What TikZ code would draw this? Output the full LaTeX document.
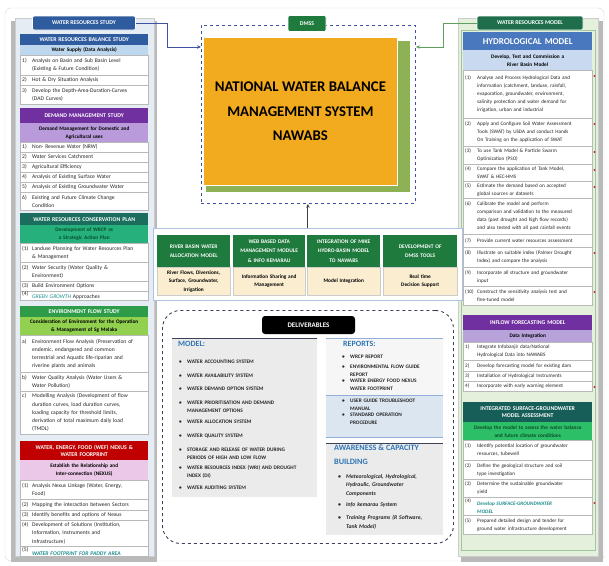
\documentclass[tikz,border=0pt]{standalone}
\usepackage{fontspec}
\setmainfont{Carlito}
\usepackage{xcolor}
\usetikzlibrary{positioning,arrows.meta}

\definecolor{wrsblue}{HTML}{2F5C9E}
\definecolor{wslight}{HTML}{BDD7EE}
\definecolor{dmpurple}{HTML}{7030A0}
\definecolor{dmlight}{HTML}{B99BDC}
\definecolor{cpteal}{HTML}{1B6E5E}
\definecolor{cplight}{HTML}{25B07C}
\definecolor{cptext}{HTML}{0B4D2A}
\definecolor{efgreen}{HTML}{2E9B48}
\definecolor{eflime}{HTML}{92D050}
\definecolor{wefred}{HTML}{C00000}
\definecolor{wefpink}{HTML}{EBC8E8}
\definecolor{hydblue}{HTML}{4A78BE}
\definecolor{hydlight}{HTML}{C9DAF0}
\definecolor{iflight}{HTML}{B7A2DA}
\definecolor{sgteal}{HTML}{175E58}
\definecolor{sggreen}{HTML}{2DBE68}
\definecolor{leftbg}{HTML}{E6ECF3}
\definecolor{rightbg}{HTML}{E4EFDC}
\definecolor{nawaorange}{HTML}{F2AA1E}
\definecolor{nawagreen}{HTML}{8DB255}
\definecolor{modgreen}{HTML}{1F7A3D}
\definecolor{modbeige}{HTML}{FBEED0}
\definecolor{wrmgreen}{HTML}{1E6E4C}
\definecolor{dashblue}{HTML}{3F51A5}
\definecolor{arrowgreen}{HTML}{5FA060}
\definecolor{delivline}{HTML}{3A4157}
\definecolor{boxgray}{HTML}{EBEBEB}
\definecolor{repblue}{HTML}{DCE6F1}
\definecolor{headblue}{HTML}{2E75B6}
\definecolor{italteal}{HTML}{1B8C8C}
\definecolor{dotred}{HTML}{D9262C}

\newcommand\lit[2]{\noindent\makebox[10pt][l]{#1}\parbox[t]{\dimexpr\hsize-10pt\relax}{\raggedright #2}}
\newcommand\rit[2]{\noindent\makebox[12pt][l]{#1}\parbox[t]{\dimexpr\hsize-12pt\relax}{\raggedright #2}}
\newcommand\dbul[1]{\noindent\makebox[8pt][l]{\textbullet}\parbox[t]{\dimexpr\hsize-8pt\relax}{\raggedright #1}\par}

\tikzset{
  tabbox/.style={rounded corners=2pt, draw=white, line width=0.6pt, text=white, inner sep=1pt, minimum height=14pt, font=\bfseries\fontsize{5.8}{7}\selectfont},
  lhdr/.style={anchor=north west, text width=124pt, inner xsep=2pt, inner ysep=0pt, align=center, text=white, font=\bfseries\fontsize{5.8}{7.6}\selectfont},
  lsub/.style={lhdr, text=black, font=\bfseries\fontsize{5.3}{8}\selectfont},
  lrow/.style={anchor=north west, draw=gray!55, fill=white, text=black!85, text width=124pt, inner xsep=2pt, inner ysep=0pt, align=left, font=\fontsize{5.6}{8.2}\selectfont},
  rhdr/.style={lhdr, text width=125pt},
  rsub/.style={lsub, text width=125pt},
  rrow/.style={lrow, text width=125pt, font=\fontsize{5.2}{8}\selectfont},
  modhdr/.style={anchor=north west, fill=modgreen, text=white, align=center, inner sep=1pt, minimum height=32pt, font=\bfseries\fontsize{5.5}{9.5}\selectfont},
  modbdy/.style={anchor=north west, fill=modbeige, draw=gray!40, align=center, inner sep=1pt, minimum height=28pt, font=\bfseries\fontsize{5.3}{8.5}\selectfont},
  listhead/.style={anchor=north west, inner sep=0pt, text=headblue, font=\bfseries\fontsize{8}{9}\selectfont},
  capslist/.style={anchor=north west, inner sep=0pt, align=left, text=black!85, font=\bfseries\fontsize{5.3}{8}\selectfont},
  conn/.style={line width=0.9pt, -{Stealth[length=4pt,width=3.5pt]}},
  reddot/.style={fill=dotred}
}

\begin{document}
\begin{tikzpicture}[x=1pt,y=-1pt]
\useasboundingbox (0,0) rectangle (609,565);
\fill[white] (0,0) rectangle (609,565);
\draw[gray!30, rounded corners=6pt] (5,8) rectangle (604,561);

\fill[gray!55] (11,21) rectangle (157,562);
\draw[fill=leftbg, draw=gray!40] (15,18) rectangle (154,556);
\fill[gray!55] (461,21) rectangle (603,562);
\draw[fill=rightbg, draw=gray!40] (458,18) rectangle (598,556);
\draw[green!25!gray!60] (461,30) rectangle (595,550);

\node[tabbox, fill=wrsblue, minimum width=103pt] (wrs) at (84,23) {WATER RESOURCES STUDY};
\node[tabbox, fill=wrmgreen, minimum width=106pt] (wrm) at (530,23) {WATER RESOURCES MODEL};

\node[lhdr, fill=wrsblue, minimum height=11pt] (wrbs) at (20,34) {WATER RESOURCES BALANCE STUDY};
\node[lsub, fill=wslight, minimum height=9.5pt] (wrbssub) at (20,45) {Water Supply (Data Analysis)};
\node[lrow, minimum height=20pt] (wr1) at (20,54.5) {\lit{1)}{Analysis on Basin and Sub Basin Level\\(Existing \& Future Condition)}};
\node[lrow, minimum height=10pt] (wr2) at (20,74.5) {\lit{2)}{Hot \& Dry Situation Analysis}};
\node[lrow, minimum height=19.5pt] (wr3) at (20,84.5) {\lit{3)}{Develop the Depth-Area-Duration-Curves\\(DAD Curves)}};

\node[lhdr, fill=dmpurple, minimum height=15pt] (dms) at (20,108) {DEMAND MANAGEMENT STUDY};
\node[lsub, fill=dmlight, minimum height=19pt] (dmssub) at (20,123) {Demand Management for Domestic and\\Agricultural uses};
\node[lrow, minimum height=10pt] (dm1) at (20,142) {\lit{1)}{Non- Revenue Water (NRW)}};
\node[lrow, minimum height=10pt] (dm2) at (20,152) {\lit{2)}{Water Services Catchment}};
\node[lrow, minimum height=10pt] (dm3) at (20,162) {\lit{3)}{Agricultural Efficiency}};
\node[lrow, minimum height=10pt] (dm4) at (20,172) {\lit{4)}{Analysis of Existing Surface Water}};
\node[lrow, minimum height=10pt] (dm5) at (20,182) {\lit{5)}{Analysis of Existing Groundwater Water}};
\node[lrow, minimum height=18pt] (dm6) at (20,192) {\lit{6)}{Existing and Future Climate Change\\Condition}};

\node[lhdr, fill=cpteal, minimum height=12pt] (cp) at (20,213) {WATER RESOURCES CONSERVATION PLAN};
\node[lsub, fill=cplight, text=cptext, minimum height=18pt] (cpsub) at (20,225) {Development of WRCP as\\a Strategic Action Plan};
\node[lrow, minimum height=19pt] (cp1) at (20,243) {\lit{(1)}{Landuse Planning for Water Resources Plan\\\& Management}};
\node[lrow, minimum height=19pt] (cp2) at (20,262) {\lit{(2)}{Water Security (Water Quality \&\\Environment)}};
\node[lrow, minimum height=9.5pt] (cp3) at (20,281) {\lit{(3)}{Build Environment Options}};
\node[lrow, minimum height=9.5pt] (cp4) at (20,290.5) {\lit{(4)}{{\color{italteal}\itshape GREEN GROWTH} Approaches}};

\node[lhdr, fill=efgreen, minimum height=11pt] (ef) at (20,306) {ENVIRONMENT FLOW STUDY};
\node[lsub, fill=eflime, minimum height=18pt] (efsub) at (20,317) {Consideration of Environment for the Operation\\\& Management of Sg Melaka};
\node[lrow, minimum height=37pt] (ef1) at (20,335) {\lit{a)}{Environment Flow Analysis (Preservation of\\endemic, endangered and common\\terrestrial and Aquatic life-riparian and\\riverine plants and animals}};
\node[lrow, minimum height=19pt] (ef2) at (20,372) {\lit{b)}{Water Quality Analysis (Water Users \&\\Water Pollution)}};
\node[lrow, minimum height=43pt] (ef3) at (20,391) {\lit{c)}{Modelling Analysis (Development of flow\\duration curves, load duration curves,\\loading capacity for threshold limits,\\derivation of total maximum daily load\\(TMDL)}};

\node[lhdr, fill=wefred, minimum height=19pt] (wef) at (20,441) {WATER, ENERGY, FOOD (WEF) NEXUS \&\\WATER FOORPRINT};
\node[lsub, fill=wefpink, minimum height=20pt] (wefsub) at (20,460) {Establish the Relationship and\\Inter-connection (NEXUS)};
\node[lrow, minimum height=19pt] (wef1) at (20,480) {\lit{(1)}{Analysis Nexus Linkage (Water, Energy,\\Food)}};
\node[lrow, minimum height=10.5pt] (wef2) at (20,499) {\lit{(2)}{Mapping the interaction between Sectors}};
\node[lrow, minimum height=10.5pt] (wef3) at (20,509.5) {\lit{(3)}{Identify benefits and options of Nexus}};
\node[lrow, minimum height=26pt] (wef4) at (20,520) {\lit{(4)}{Development of Solutions (Institution,\\Information, Instruments and\\Infrastructure)}};
\node[lrow, minimum height=10pt] (wef5) at (20,546) {\lit{(5)}{{\color{italteal}\bfseries\itshape WATER FOOTPRINT FOR PADDY AREA}}};

\node[rhdr, fill=hydblue, minimum height=18pt, font=\bfseries\fontsize{9}{10}\selectfont] (hyd) at (463,32) {HYDROLOGICAL MODEL};
\node[rsub, fill=hydlight, minimum height=20pt] (hydsub) at (463,50) {Develop, Test and Commission a\\River Basin Model};
\node[rrow, minimum height=48pt] (h1) at (463,70) {\rit{(1)}{Analyse and Process Hydrological Data and\\information (catchment, landuse, rainfall,\\evaporation, groundwater, environment,\\salinity protection and water demand for\\irrigation, urban and industrial}};
\node[rrow, minimum height=28pt] (h2) at (463,118) {\rit{(2)}{Apply and Configure Soil Water Assessment\\Tools (SWAT) by USDA and conduct Hands\\On Training on the application of SWAT}};
\node[rrow, minimum height=18pt] (h3) at (463,146) {\rit{(3)}{To use Tank Model \& Particle Swarm\\Optimization (PSO)}};
\node[rrow, minimum height=17pt] (h4) at (463,164) {\rit{(4)}{Compare the application of Tank Model,\\SWAT \& HEC-HMS}};
\node[rrow, minimum height=17pt] (h5) at (463,181) {\rit{(5)}{Estimate the demand based on accepted\\global sources or datasets}};
\node[rrow, minimum height=36pt] (h6) at (463,198) {\rit{(6)}{Calibrate the model and perform\\comparison and validation to the measured\\data (past drought and high flow records)\\and also tested with all past rainfall events}};
\node[rrow, minimum height=13pt] (h7) at (463,234) {\rit{(7)}{Provide current water resources assessment}};
\node[rrow, minimum height=20pt] (h8) at (463,247) {\rit{(8)}{Illustrate on suitable index (Palmer Drought\\Index) and compare the analysis}};
\node[rrow, minimum height=19pt] (h9) at (463,267) {\rit{(9)}{Incorporate all structure and groundwater\\input}};
\node[rrow, minimum height=19pt] (h10) at (463,286) {\rit{(10)}{Construct the sensitivity analysis test and\\fine-tuned model}};

\node[rhdr, fill=dmpurple, minimum height=15pt] (inflow) at (463,315) {INFLOW FORECASTING MODEL};
\node[rsub, fill=iflight, minimum height=12pt] (inflowsub) at (463,330) {Data Integration};
\node[rrow, minimum height=18pt] (if1) at (463,342) {\rit{1)}{Integrate Infobanjir data/National\\Hydrological Data into NAWABS}};
\node[rrow, minimum height=11pt] (if2) at (463,360) {\rit{2)}{Develop forecasting model for existing dam}};
\node[rrow, minimum height=10pt] (if3) at (463,371) {\rit{3)}{Installation of Hydrological Instruments}};
\node[rrow, minimum height=10pt] (if4) at (463,381) {\rit{4)}{Incorporate with early warning element}};

\node[rhdr, fill=sgteal, minimum height=20pt] (sg) at (463,402) {INTEGRATED SURFACE-GROUNDWATER\\MODEL ASSESSMENT};
\node[rsub, fill=sggreen, text=cptext, minimum height=18pt] (sgsub) at (463,422) {Develop the model to assess the water balance\\and future climate conditions};
\node[rrow, minimum height=20pt] (sg1) at (463,440) {\rit{(1)}{Identify potential location of groundwater\\resources, tubewell}};
\node[rrow, minimum height=19pt] (sg2) at (463,460) {\rit{(2)}{Define the geological structure and soil\\type investigation}};
\node[rrow, minimum height=18pt] (sg3) at (463,479) {\rit{(3)}{Determine the sustainable groundwater\\yield}};
\node[rrow, minimum height=18pt] (sg4) at (463,497) {\rit{(4)}{{\color{italteal}\bfseries\itshape Develop SURFACE-GROUNDWATER\\MODEL}}};
\node[rrow, minimum height=19pt] (sg5) at (463,515) {\rit{(5)}{Prepared detailed design and tender for\\ground water infrastructure development}};

\foreach \n in {h1,h2,h3,h4,h5,h8,h10,if4,sg4}
  \fill[reddot] ([xshift=2pt,yshift=-6pt]\n.north east) circle (1.1pt);

\node[draw=dashblue, dashed, line width=0.9pt, minimum width=214pt, minimum height=178pt, anchor=north west] (dmss) at (201,25) {};
\fill[nawagreen] (206,41) rectangle (410,192);
\node[fill=nawaorange, draw=white, line width=0.8pt, minimum width=194pt, minimum height=148pt, anchor=north west, align=center, font=\bfseries\fontsize{14.8}{24.5}\selectfont] (nawabs) at (203,37) {NATIONAL WATER BALANCE\\MANAGEMENT SYSTEM\\NAWABS};
\node[tabbox, fill=modgreen, minimum width=38pt, minimum height=16pt] (dmsstab) at (307,23.5) {DMSS};

\coordinate (lbend) at (167,47);
\coordinate (rbend) at (443,47);
\draw[conn, draw=dashblue] (wrs.east) -| (lbend) -- (lbend -| dmss.west);
\draw[conn, draw=arrowgreen] (wrm.west) -| (rbend) -- (rbend -| dmss.east);

\node[draw=hydblue!45, fill=white, line width=0.8pt, minimum width=309pt, minimum height=72pt, anchor=north west] (modpanel) at (153,228) {};
\draw[conn, draw=black!75] (modpanel.north) -- (modpanel.north |- dmss.south);

\node[modhdr, text width=71pt] (m1h) at (157,235) {RIVER BASIN WATER\\ALLOCATION MODEL};
\node[modbdy, text width=71pt] (m1b) at (157,267) {River Flows, Diversions,\\Surface, Groundwater,\\Irrigation};
\node[modhdr, text width=70pt] (m2h) at (233,235) {WEB BASED DATA\\MANAGEMENT MODULE\\\& INFO KEMARAU};
\node[modbdy, text width=70pt] (m2b) at (233,267) {Information Sharing and\\Management};
\node[modhdr, text width=71pt] (m3h) at (307,235) {INTEGRATION OF MIKE\\HYDRO-BASIN MODEL\\TO NAWABS};
\node[modbdy, text width=71pt] (m3b) at (307,267) {Model Integration};
\node[modhdr, text width=72pt] (m4h) at (383,235) {DEVELOPMENT OF\\DMSS TOOLS};
\node[modbdy, text width=72pt] (m4b) at (383,267) {Real time\\Decision Support};

\node[draw=delivline, dashed, line width=0.9pt, rounded corners=18pt, minimum width=291pt, minimum height=233pt, anchor=north west] (deliv) at (162,310) {};
\node[fill=black, rounded corners=3pt, text=white, minimum width=93pt, minimum height=18pt, font=\bfseries\fontsize{7}{8}\selectfont] (delivtab) at (308.5,325) {DELIVERABLES};

\node[fill=boxgray, minimum width=145pt, minimum height=159pt, anchor=north west] (modelbox) at (172,338) {};
\draw[delivline, line width=0.9pt] (modelbox.north west) -- (modelbox.north east);
\node[listhead] (modeltitle) at (178,341) {MODEL:};
\node[capslist, text width=134pt] (modellist) at (179,359.5) {\setlength\parskip{5.9pt}%
\dbul{WATER ACCOUNTING SYSTEM}\dbul{WATER AVAILABILITY SYSTEM}\dbul{WATER DEMAND OPTION SYSTEM}%
\dbul{WATER PRIORITISATION AND DEMAND\\MANAGEMENT OPTIONS}\dbul{WATER ALLOCATION SYSTEM}%
\dbul{WATER QUALITY SYSTEM}\dbul{STORAGE AND RELEASE OF WATER DURING\\PERIODS OF HIGH AND LOW FLOW}%
\dbul{WATER RESOURCES INDEX (WRI) AND DROUGHT\\INDEX (DI)}\dbul{WATER AUDITING SYSTEM}};

\node[fill=boxgray!45, minimum width=117pt, minimum height=57pt, anchor=north west] (repbox) at (326,338) {};
\draw[hydblue!60, line width=0.8pt] (repbox.north west) -- (repbox.north east);
\node[fill=repblue, minimum width=117pt, minimum height=42pt, anchor=north west] (repshade) at (326,395) {};
\draw[hydblue!60, line width=0.8pt] (repshade.north west) -- (repshade.north east);
\draw[hydblue!60, line width=0.8pt] (repshade.south west) -- (repshade.south east);
\node[listhead] (reptitle) at (343,341) {REPORTS:};
\node[capslist, text width=96pt] (replist) at (342,355) {\setlength\parskip{1.5pt}%
\dbul{WRCP REPORT}\dbul{ENVIRONMENTAL FLOW GUIDE\\REPORT}\dbul{WATER ENERGY FOOD NEXUS\\WATER FOOTPRINT}};
\node[capslist, text width=96pt] (replist2) at (342,398.5) {\setlength\parskip{1.5pt}%
\dbul{USER GUIDE TROUBLESHOOT\\MANUAL}\dbul{STANDARD OPERATION\\PROCEDURE}};

\node[fill=boxgray, minimum width=117pt, minimum height=92pt, anchor=north west] (awbox) at (326,443) {};
\draw[delivline, line width=0.9pt] (awbox.north west) -- (awbox.north east);
\node[listhead, align=left, font=\bfseries\fontsize{8.2}{14}\selectfont] (awtitle) at (334,445) {AWARENESS \& CAPACITY\\BUILDING};
\node[capslist, text width=102pt, font=\bfseries\itshape\fontsize{5.7}{8.5}\selectfont] (awlist) at (338,474) {\setlength\parskip{5pt}%
\dbul{Meteorological, Hydrological,\\Hydraulic, Groundwater\\Components}\dbul{Info kemarau System}%
\dbul{Training Programs (R Software,\\Tank Model)}};
\end{tikzpicture}
\end{document}
